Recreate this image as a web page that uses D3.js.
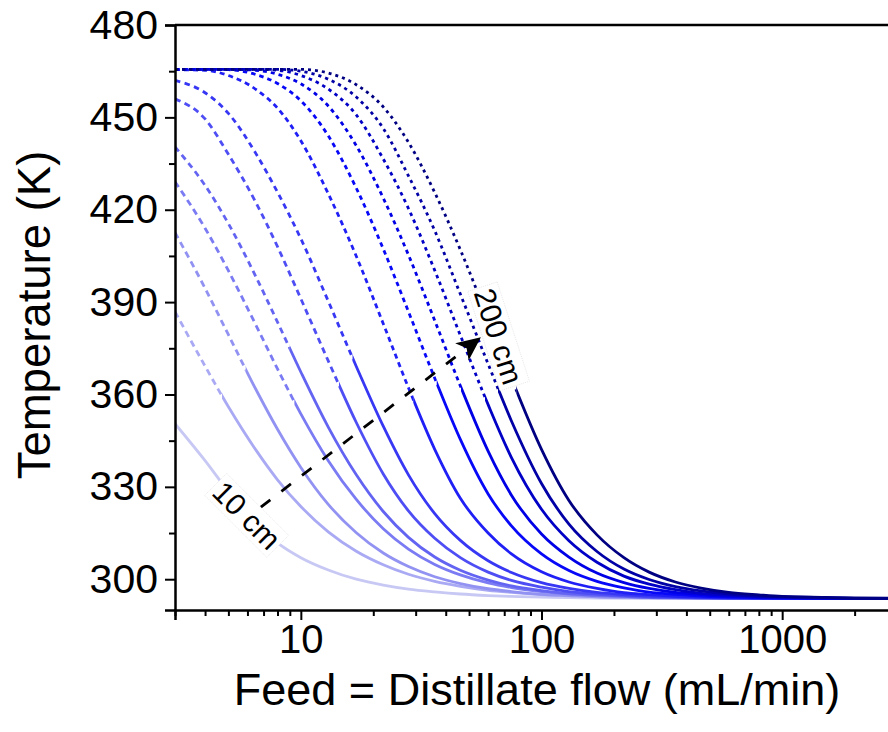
<!DOCTYPE html>
<html>
<head>
<meta charset="utf-8">
<script src="https://cdn.jsdelivr.net/npm/d3@7"></script>
<style>
  body { margin: 0; background: #fff; }
  svg { display: block; font-family: "Liberation Sans", Arial, sans-serif; }
</style>
</head>
<body>
<div id="chart"></div>
<script>
// Shared flow grid (mL/min) for every curve
const flows = [3, 4, 5, 6.5, 8, 10, 13, 17, 22, 28, 36, 46, 60, 75, 100, 130, 170, 220, 280, 360, 460, 600, 800, 1000, 1500, 2000, 3000];

// Temperature (K) per column length, shortest (10 cm) to longest (200 cm)
const curve01 = [350.5, 338.5, 328.5, 318.5, 311.8, 307.0, 303.0, 300.0, 298.1, 296.8, 295.9, 295.2, 294.7, 294.4, 294.2, 294.0, 293.9, 293.8, 293.7, 293.7, 293.7, 293.7, 293.7, 293.7, 293.7, 293.7, 293.7];
const curve02 = [386.9, 369.2, 356.0, 342.0, 332.3, 323.6, 315.4, 309.1, 304.7, 301.6, 299.3, 297.7, 296.4, 295.7, 295.0, 294.6, 294.3, 294.1, 294.0, 293.9, 293.8, 293.7, 293.7, 293.7, 293.7, 293.7, 293.7];
const curve03 = [412.6, 394.5, 379.4, 361.7, 348.7, 336.3, 324.3, 315.1, 308.5, 304.1, 300.8, 298.6, 296.9, 296.0, 295.1, 294.7, 294.3, 294.1, 294.0, 293.9, 293.8, 293.7, 293.7, 293.7, 293.7, 293.7, 293.7];
const curve04 = [429.1, 414.0, 400.2, 382.6, 368.3, 353.7, 338.5, 325.9, 316.4, 309.8, 304.8, 301.4, 298.8, 297.3, 296.0, 295.2, 294.7, 294.4, 294.1, 294.0, 293.9, 293.8, 293.7, 293.7, 293.7, 293.7, 293.7];
const curve05 = [440.4, 427.9, 415.5, 398.3, 383.5, 367.3, 349.4, 333.9, 322.0, 313.6, 307.2, 302.9, 299.7, 297.8, 296.3, 295.3, 294.8, 294.4, 294.1, 294.0, 293.9, 293.8, 293.7, 293.7, 293.7, 293.7, 293.7];
const curve06 = [456.0, 449.5, 438.0, 422.4, 408.0, 391.1, 370.9, 350.9, 334.2, 322.2, 313.3, 307.0, 302.3, 299.6, 297.4, 296.0, 295.2, 294.7, 294.3, 294.1, 294.0, 293.9, 293.8, 293.7, 293.7, 293.7, 293.7];
const curve07 = [462.0, 458.0, 451.3, 438.3, 425.7, 410.6, 390.3, 369.1, 349.7, 333.9, 321.3, 312.6, 306.0, 302.2, 298.9, 297.0, 295.7, 295.0, 294.5, 294.3, 294.1, 293.9, 293.8, 293.7, 293.7, 293.7, 293.7];
const curve08 = [465.5, 465.3, 463.6, 459.1, 453.0, 442.4, 425.2, 404.9, 383.0, 362.2, 342.2, 326.3, 315.0, 308.2, 302.4, 299.1, 297.0, 295.6, 295.0, 294.4, 294.2, 294.0, 293.9, 293.8, 293.7, 293.7, 293.7];
const curve09 = [465.6, 465.6, 465.5, 463.9, 461.0, 455.4, 444.0, 427.0, 407.3, 386.9, 365.3, 345.4, 327.7, 317.3, 308.2, 302.8, 299.3, 297.2, 295.8, 295.1, 294.5, 294.2, 294.0, 293.9, 293.8, 293.7, 293.7];
const curve10 = [465.6, 465.6, 465.6, 465.3, 464.0, 460.9, 453.7, 440.8, 423.8, 405.3, 384.0, 362.8, 341.6, 327.3, 314.7, 307.2, 302.0, 298.9, 297.0, 295.7, 295.0, 294.4, 294.1, 294.0, 293.8, 293.7, 293.7];
const curve11 = [465.6, 465.6, 465.6, 465.6, 465.3, 463.6, 459.2, 450.8, 436.5, 420.4, 400.3, 379.2, 356.7, 339.5, 322.7, 312.5, 305.5, 301.0, 298.4, 296.6, 295.4, 294.8, 294.3, 294.1, 293.9, 293.8, 293.7];
const curve12 = [465.6, 465.6, 465.6, 465.6, 465.6, 465.0, 462.4, 456.6, 446.4, 431.0, 413.2, 392.6, 369.9, 351.4, 331.1, 317.9, 309.0, 303.3, 299.9, 297.6, 296.2, 295.2, 294.5, 294.3, 294.0, 293.8, 293.7];
const curve13 = [465.6, 465.6, 465.6, 465.6, 465.6, 465.6, 464.4, 460.6, 453.4, 441.9, 425.6, 407.0, 384.5, 365.3, 342.2, 325.6, 314.4, 307.0, 302.3, 299.1, 297.1, 295.7, 294.9, 294.4, 294.1, 293.9, 293.8];

const curves = [curve01, curve02, curve03, curve04, curve05, curve06, curve07, curve08, curve09, curve10, curve11, curve12, curve13];

// flow where each curve switches from broken line to solid line (null = solid throughout)
const breakFlows = [null, 4.7, 5.9, 9.4, 9.0, 14.4, 16.4, 29.3, 36.7, 46.3, 58.2, 66, 78.5];

const yTicks = [300, 330, 360, 390, 420, 450, 480];
const yMinor = [315, 345, 375, 405, 435, 465];
const xTicks = [10, 100, 1000];
const xMinor = [3, 4, 5, 6, 7, 8, 9, 20, 30, 40, 50, 60, 70, 80, 90, 200, 300, 400, 500, 600, 700, 800, 900, 2000, 3000];

// arrow from the shortest to the longest column, and the two labels
const arrowFrom = {flow: 6.82, temp: 323.4};
const arrowTo = {flow: 56, temp: 378.6};
const labels = [
  {text: "10 cm", flow: 5.97, temp: 320.8, angle: 45},
  {text: "200 cm", flow: 66.5, temp: 378.9, angle: 72}
];

// styles
const colors = ["#c8c8f4", "#a9a9f4", "#9292f2", "#7b7bf3", "#6464f2", "#4e4ef4", "#3838f4", "#2020f6", "#0808f8", "#0000e6", "#0000c6", "#0000a6", "#000082"];
const dashes = ["", "6.5,4.5", "6.5,4.5", "6.5,4.5", "6,4.5", "6,4.5", "5.5,4.5", "5,4", "4.5,4", "4,4", "3.5,4", "3.2,4", "3,4"];

const width = 888, height = 732;
const marginLeft = 175, marginTop = 25, plotRight = 897, plotBottom = 610;

const x = d3.scaleLog().domain([3, 3000]).range([marginLeft, plotRight]);
const y = d3.scaleLinear().domain([290, 480]).range([plotBottom, marginTop]);

const svg = d3.select("#chart").append("svg")
  .attr("width", width)
  .attr("height", height)
  .attr("viewBox", [0, 0, width, height]);

const defs = svg.append("defs");
defs.append("clipPath").attr("id", "plot")
  .append("rect").attr("x", marginLeft).attr("y", marginTop)
  .attr("width", plotRight - marginLeft).attr("height", plotBottom - marginTop);

const line = d3.line()
  .x(d => x(d[0]))
  .y(d => y(d[1]))
  .curve(d3.curveMonotoneX);

const plot = svg.append("g").attr("clip-path", "url(#plot)");

curves.forEach((temps, i) => {
  const pts = flows.map((f, j) => [f, temps[j]]);
  const bx = breakFlows[i] == null ? marginLeft : x(breakFlows[i]);

  // clip for broken (left) and solid (right) parts
  defs.append("clipPath").attr("id", `left${i}`)
    .append("rect").attr("x", 0).attr("y", 0).attr("width", bx).attr("height", height);
  defs.append("clipPath").attr("id", `right${i}`)
    .append("rect").attr("x", bx).attr("y", 0).attr("width", width - bx).attr("height", height);

  if (breakFlows[i] != null) {
    plot.append("g").attr("clip-path", `url(#left${i})`)
      .append("path")
      .attr("d", line(pts))
      .attr("fill", "none")
      .attr("stroke", colors[i])
      .attr("stroke-width", 2.8)
      .attr("stroke-dasharray", dashes[i]);
  }
  plot.append("g").attr("clip-path", `url(#right${i})`)
    .append("path")
    .attr("d", line(pts))
    .attr("fill", "none")
    .attr("stroke", colors[i])
    .attr("stroke-width", 2.8)
    .attr("stroke-linejoin", "round");
});

// arrow
const ax0 = x(arrowFrom.flow), ay0 = y(arrowFrom.temp);
const ax1 = x(arrowTo.flow), ay1 = y(arrowTo.temp);
const len = Math.hypot(ax1 - ax0, ay1 - ay0);
const ux = (ax1 - ax0) / len, uy = (ay1 - ay0) / len;
const px = -uy, py = ux;
const headLen = 24, headHalf = 11, notch = 6;
svg.append("line")
  .attr("x1", ax0).attr("y1", ay0)
  .attr("x2", ax1 - ux * (headLen - notch)).attr("y2", ay1 - uy * (headLen - notch))
  .attr("stroke", "#000").attr("stroke-width", 2.8)
  .attr("stroke-dasharray", "12,14");
svg.append("path")
  .attr("d", `M${ax1},${ay1}
    L${ax1 - ux * headLen + px * headHalf},${ay1 - uy * headLen + py * headHalf}
    L${ax1 - ux * (headLen - notch)},${ay1 - uy * (headLen - notch)}
    L${ax1 - ux * headLen - px * headHalf},${ay1 - uy * headLen - py * headHalf}Z`)
  .attr("fill", "#000");

// labels with white boxes
labels.forEach(l => {
  const g = svg.append("g")
    .attr("transform", `translate(${x(l.flow)},${y(l.temp)}) rotate(${l.angle})`);
  const rect = g.append("rect");
  const t = g.append("text")
    .attr("text-anchor", "middle")
    .attr("dy", "0.36em")
    .attr("font-size", 30)
    .attr("fill", "#000")
    .text(l.text);
  const bb = t.node().getBBox();
  rect.attr("x", bb.x - 3).attr("y", bb.y + 1)
    .attr("width", bb.width + 6).attr("height", bb.height - 2)
    .attr("fill", "#fff")
    .attr("stroke", "#e4e4e4").attr("stroke-width", 0.8)
    .attr("stroke-dasharray", "1,1");
});

// frame: top border
svg.append("line")
  .attr("x1", marginLeft).attr("x2", plotRight)
  .attr("y1", marginTop).attr("y2", marginTop)
  .attr("stroke", "#000").attr("stroke-width", 2.5);

// axes
const gy = svg.append("g")
  .attr("transform", `translate(${marginLeft},0)`)
  .call(d3.axisLeft(y).tickValues(yTicks).tickSize(10).tickPadding(7).tickFormat(d3.format("d")));
gy.append("g").call(d3.axisLeft(y).tickValues(yMinor).tickSize(6).tickFormat(""))
  .call(g => g.select(".domain").remove());
gy.selectAll(".tick text").attr("font-size", 41);

const gx = svg.append("g")
  .attr("transform", `translate(0,${plotBottom})`)
  .call(d3.axisBottom(x).tickValues(xTicks).tickSize(10).tickPadding(5).tickFormat(d3.format("d")));
gx.append("g").call(d3.axisBottom(x).tickValues(xMinor).tickSize(6).tickFormat(""))
  .call(g => g.select(".domain").remove());
gx.selectAll(".tick text").attr("font-size", 40);

svg.selectAll(".domain").attr("stroke-width", 2.5);
svg.selectAll(".tick line").attr("stroke-width", 2);
svg.selectAll(".tick text")
  .attr("font-family", "'Liberation Sans', Arial, sans-serif")
  .attr("fill", "#000");

// axis titles
svg.append("text")
  .attr("x", 537).attr("y", 705)
  .attr("text-anchor", "middle")
  .attr("font-size", 45)
  .text("Feed = Distillate flow (mL/min)");

svg.append("text")
  .attr("transform", "translate(50,315) rotate(-90)")
  .attr("text-anchor", "middle")
  .attr("font-size", 45.5)
  .text("Temperature (K)");
</script>
</body>
</html>
